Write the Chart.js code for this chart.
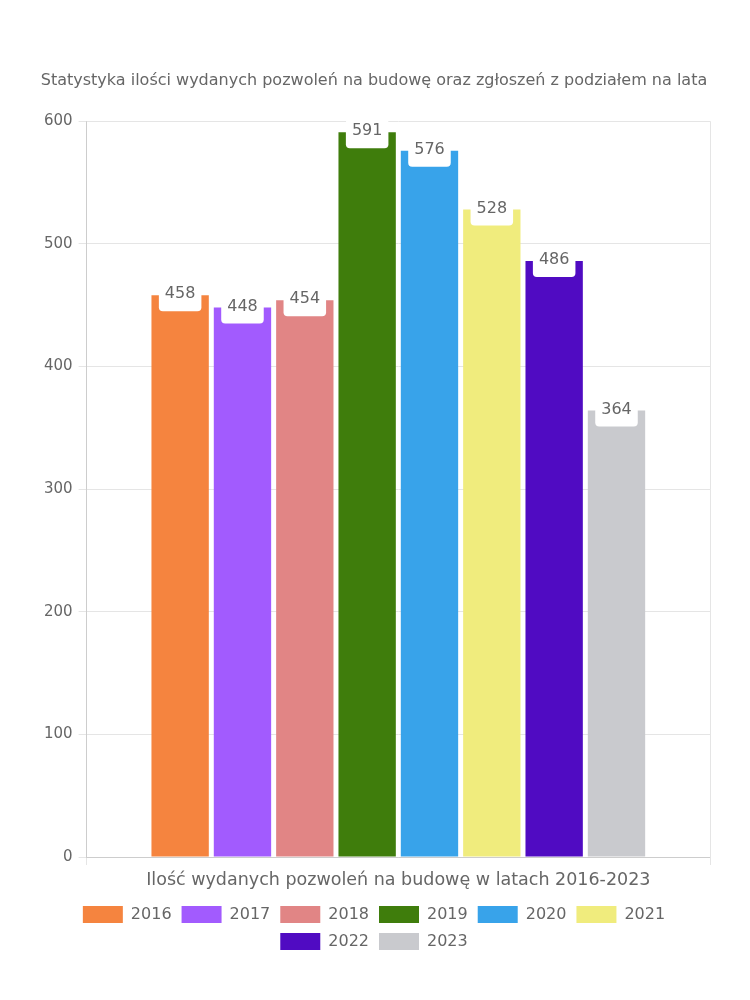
<!DOCTYPE html>
<html>
<head>
<meta charset="utf-8">
<script src="https://cdn.jsdelivr.net/npm/chart.js@4"></script>
<style>
  body { margin: 0; background: #fff; }
  #wrap { width: 750px; height: 1000px; }
</style>
</head>
<body>
<div id="wrap"><canvas id="myChart"></canvas></div>
<script>
var category = ['Ilość wydanych pozwoleń na budowę w latach 2016-2023'];
var years = ['2016', '2017', '2018', '2019', '2020', '2021', '2022', '2023'];
var values = [458, 448, 454, 591, 576, 528, 486, 364];
var colors = ['#F5843F', '#A25BFE', '#E18585', '#3F7D0C', '#38A3EA', '#F0EC7D', '#500BC2', '#C9CACE'];
var yTicks = [0, 100, 200, 300, 400, 500, 600];

var FONT = '"DejaVu Sans", sans-serif';

// white label boxes on top of each bar
var valueBoxes = {
  id: 'valueBoxes',
  afterDatasetsDraw: function (chart) {
    var c = chart.ctx;
    c.save();
    c.font = '16px ' + FONT;
    c.textAlign = 'center';
    c.textBaseline = 'middle';
    chart.data.datasets.forEach(function (ds, i) {
      var bar = chart.getDatasetMeta(i).data[0];
      if (!bar || chart.getDatasetMeta(i).hidden) return;
      var txt = String(ds.data[0]);
      var w = c.measureText(txt).width + 12;
      var h = 30;
      var x = bar.x - w / 2, y = bar.y - h / 2 + 1;
      c.fillStyle = '#fff';
      c.beginPath();
      c.roundRect(x, y, w, h, 4);
      c.fill();
      c.fillStyle = '#666';
      c.fillText(txt, bar.x, bar.y - 1);
    });
    c.restore();
  }
};

var ctx = document.getElementById('myChart').getContext('2d');
Chart.defaults.font.family = FONT;
Chart.defaults.color = '#666';

new Chart(ctx, {
  type: 'bar',
  data: {
    labels: category,
    datasets: years.map(function (y, i) {
      return {
        label: y,
        data: [values[i]],
        backgroundColor: colors[i],
        barPercentage: 0.92,
        categoryPercentage: 0.8
      };
    })
  },
  options: {
    responsive: true,
    maintainAspectRatio: false,
    animation: false,
    layout: { padding: { top: 71, right: 40, left: 38, bottom: 40 } },
    plugins: {
      title: {
        display: true,
        text: 'Statystyka ilości wydanych pozwoleń na budowę oraz zgłoszeń z podziałem na lata',
        font: { size: 16, weight: 'normal' },
        color: '#666',
        padding: { top: 0, bottom: 31 }
      },
      legend: {
        position: 'bottom',
        labels: { boxWidth: 40, boxHeight: 17, font: { size: 16 }, color: '#666', padding: 10 }
      },
      tooltip: { enabled: false }
    },
    scales: {
      x: {
        grid: { color: '#e5e5e5', offset: true },
        ticks: { font: { size: 17.5 }, color: '#666', padding: 5 }
      },
      y: {
        min: 0,
        max: 600,
        afterBuildTicks: function (axis) {
          axis.ticks = yTicks.map(function (v) { return { value: v }; });
        },
        grid: { color: '#e5e5e5' },
        ticks: { font: { size: 15 }, color: '#666', padding: 6 }
      }
    }
  },
  plugins: [valueBoxes]
});
</script>
</body>
</html>
